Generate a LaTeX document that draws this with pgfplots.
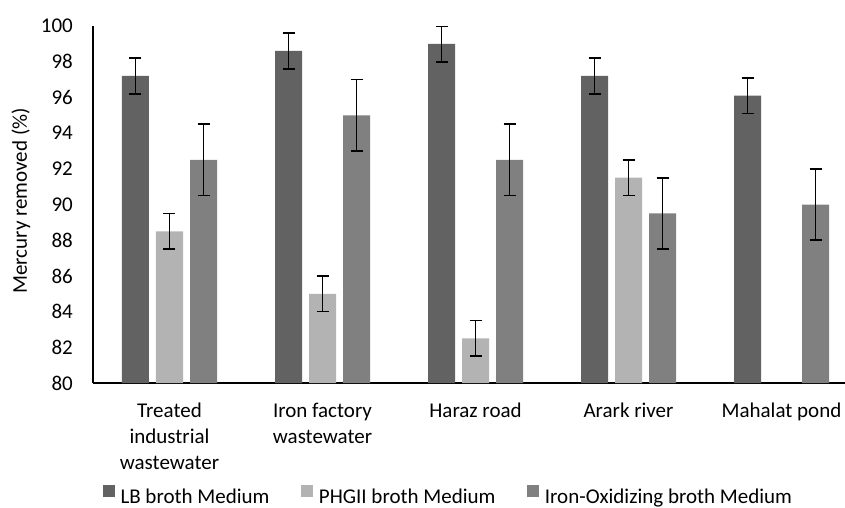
\documentclass[border=0pt]{standalone}
\usepackage{fontspec}
\setmainfont{Carlito}
\usepackage{pgfplots}
\usepackage{pgfplotstable}
\pgfplotsset{compat=1.18}
\definecolor{cLB}{HTML}{626262}
\definecolor{cPH}{HTML}{B3B3B3}
\definecolor{cIR}{HTML}{808080}
\pgfplotstableread{
x y e
0 97.2 1
1 98.6 1
2 99.0 1
3 97.2 1
4 96.1 1
}\lbdata
\pgfplotstableread{
x y e
0 88.5 1
1 85.0 1
2 82.5 1
3 91.5 1
}\phdata
\pgfplotstableread{
x y e
0 92.5 2
1 95.0 2
2 92.5 2
3 89.5 2
4 90.0 2
}\irdata
\newcommand{\chartfont}{\fontsize{21}{26}\selectfont}
\begin{document}
\begin{tikzpicture}
\begin{axis}[
  at={(0,0)}, anchor=south west,
  scale only axis, width=765pt, height=357pt,
  xmin=-0.5, xmax=4.5, ymin=80, ymax=100,
  ybar=7pt, bar width=27pt,
  axis x line*=bottom, axis y line*=left,
  axis line style={line width=1.3pt, black, -},
  major tick length=0pt,
  xtick={0,1,2,3,4},
  xticklabels={{Treated\\industrial\\wastewater},{Iron factory\\wastewater},{Haraz road},{Arark river},{Mahalat pond}},
  ytick={80,82,...,100},
  /pgf/number format/assume math mode=true,
  tick label style={font=\chartfont, inner sep=0pt},
  xticklabel style={align=center, yshift=-19.5pt},
  yticklabel style={xshift=-20pt},
  ylabel={Mercury removed (\%)},
  ylabel style={at={(axis description cs:-0.0863,0.51)}, anchor=base, font=\chartfont, inner sep=0pt},
  legend columns=3,
  legend cell align=left,
  legend image code/.code={\path[#1, draw=none] (0pt,0pt) rectangle (11.5pt,11.5pt);},
  legend style={at={(axis description cs:0.01307,-0.3140)}, anchor=west, draw=none, fill=none, inner sep=0pt, outer sep=0pt, font=\chartfont,
    nodes={inner sep=0pt},
    /tikz/every odd column/.append style={column sep=6pt},
    /tikz/every even column/.append style={column sep=32pt}},
  error bars/error bar style={line width=1.6pt, black},
  error bars/error mark options={line width=1.6pt, black, mark size=6pt, rotate=90},
]
\addplot[fill=cLB, draw=none, error bars/.cd, y dir=both, y explicit] table[x=x, y=y, y error=e]{\lbdata};
\addlegendentry{LB broth Medium}
\addplot[fill=cPH, draw=none, error bars/.cd, y dir=both, y explicit] table[x=x, y=y, y error=e]{\phdata};
\addlegendentry{PHGII broth Medium}
\addplot[fill=cIR, draw=none, error bars/.cd, y dir=both, y explicit] table[x=x, y=y, y error=e]{\irdata};
\addlegendentry{Iron-Oxidizing broth Medium}
\end{axis}
\pgfresetboundingbox
\path[use as bounding box] (-93pt,-124pt) rectangle (752pt,383pt);
\end{tikzpicture}
\end{document}
